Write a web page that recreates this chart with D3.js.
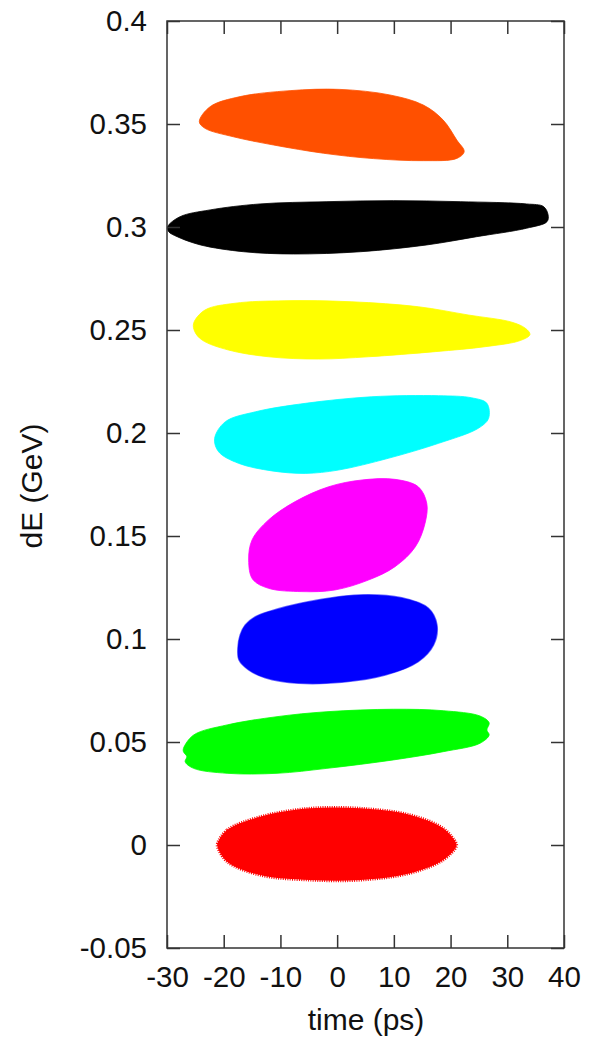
<!DOCTYPE html>
<html>
<head>
<meta charset="utf-8">
<script src="https://cdn.jsdelivr.net/npm/d3@7"></script>
<style>
  body { margin: 0; background: #fff; }
  svg { display: block; font-family: "Liberation Sans", Arial, sans-serif; }
  .axis text { font-size: 29.5px; fill: #111; }
  .axis line { stroke: #333; stroke-width: 1.5; }
  .title { font-size: 30px; fill: #111; }
</style>
</head>
<body>
<svg width="589" height="1040"></svg>
<script>
// tick values
var xTicks = [-30, -20, -10, 0, 10, 20, 30, 40];
var yTicks = [-0.05, 0, 0.05, 0.1, 0.15, 0.2, 0.25, 0.3, 0.35, 0.4];

// bunch outlines, [time (ps), dE (GeV)]
var orange = [[-24.3,0.3511],[-22.4,0.3584],[-17.1,0.3633],[-8.3,0.3662],[0.5,0.3668],[9.3,0.3641],
  [15.2,0.3592],[18.7,0.3519],[21.1,0.3422],[22.4,0.3366],[21.1,0.3333],[15.2,0.3322],[6.4,0.3332],
  [-2.4,0.3358],[-11.2,0.3398],[-18.3,0.3438],[-23.3,0.3479]];
var black = [[-29.9,0.3001],[-27.7,0.3050],[-22.4,0.3083],[-13.6,0.3112],[-1.8,0.3123],[9.9,0.3128],
  [21.7,0.3123],[33.4,0.3112],[36.4,0.3099],[37.2,0.3058],[37.0,0.3026],[33.4,0.2994],[24.6,0.2953],
  [15.8,0.2913],[4.1,0.2880],[-7.7,0.2869],[-16.5,0.2880],[-24.1,0.2913],[-28.2,0.2953],[-29.7,0.2977]];
var yellow = [[-25.3,0.2533],[-23.3,0.2597],[-18.0,0.2630],[-9.2,0.2642],[2.6,0.2637],[14.3,0.2613],
  [23.1,0.2573],[30.8,0.2538],[33.2,0.2508],[34.0,0.2478],[32.3,0.2449],[26.1,0.2419],[17.3,0.2395],
  [5.5,0.2370],[-3.3,0.2359],[-12.1,0.2370],[-19.2,0.2403],[-23.8,0.2451],[-25.1,0.2492]];
var cyan = [[-21.6,0.1974],[-19.7,0.2055],[-14.4,0.2103],[-5.6,0.2144],[6.1,0.2176],[17.9,0.2181],
  [23.7,0.2171],[26.4,0.2144],[26.7,0.2071],[24.9,0.2023],[17.9,0.1950],[9.0,0.1877],[0.2,0.1820],
  [-5.6,0.1804],[-11.5,0.1816],[-17.4,0.1853],[-20.9,0.1909]];
var magenta = [[-15.6,0.1383],[-15.0,0.1481],[-12.1,0.1578],[-7.4,0.1667],[-1.5,0.1739],[4.4,0.1772],
  [10.2,0.1775],[14.3,0.1739],[15.8,0.1659],[15.5,0.1562],[13.8,0.1448],[10.2,0.1351],[5.5,0.1286],
  [-0.4,0.1238],[-6.2,0.1230],[-12.1,0.1246],[-14.9,0.1290]];
var blue = [[-17.5,0.0955],[-17.1,0.1019],[-16.2,0.1068],[-14.4,0.1108],[-12.1,0.1133],[-5.1,0.1181],
  [3.8,0.1214],[11.4,0.1200],[16.1,0.1149],[17.6,0.1068],[17.0,0.0971],[14.3,0.0890],[8.5,0.0825],
  [0.8,0.0790],[-6.8,0.0785],[-12.7,0.0812],[-15.6,0.0850],[-17.3,0.0898]];
var green = [[-27.1,0.0469],[-25.3,0.0534],[-19.4,0.0583],[-10.6,0.0623],[-1.8,0.0647],[9.9,0.0659],
  [18.7,0.0652],[25.2,0.0626],[26.8,0.0593],[26.4,0.0558],[26.8,0.0534],[25.2,0.0494],[18.7,0.0453],
  [9.9,0.0413],[-1.8,0.0372],[-10.6,0.0348],[-19.4,0.0348],[-25.3,0.0372],[-26.8,0.0404],
  [-26.5,0.0429],[-27.1,0.0453]];
var red = [[-21.1,0.0008],[-19.4,0.0073],[-13.6,0.0137],[-4.8,0.0178],[4.1,0.0178],[12.9,0.0146],
  [18.7,0.0081],[21.0,0.0008],[21.0,-0.0008],[18.7,-0.0073],[12.9,-0.0137],[4.1,-0.0170],[-4.8,-0.0170],
  [-13.6,-0.0146],[-19.4,-0.0081],[-21.1,-0.0008]];

var bunches = [
  {name: "orange", pts: orange, color: "#ff5000"},
  {name: "black", pts: black, color: "#000000"},
  {name: "yellow", pts: yellow, color: "#ffff00"},
  {name: "cyan", pts: cyan, color: "#00ffff"},
  {name: "magenta", pts: magenta, color: "#ff00ff"},
  {name: "blue", pts: blue, color: "#0000ff"},
  {name: "green", pts: green, color: "#00ff00"},
  {name: "red", pts: red, color: "#ff0000"}
];

var svg = d3.select("svg"),
    margin = {top: 21, right: 25, bottom: 92, left: 167},
    width = +svg.attr("width") - margin.left - margin.right,
    height = +svg.attr("height") - margin.top - margin.bottom;

var x = d3.scaleLinear().domain([-30, 40]).range([0, width]),
    y = d3.scaleLinear().domain([-0.05, 0.4]).range([height, 0]);

var g = svg.append("g")
    .attr("transform", "translate(" + margin.left + "," + margin.top + ")");

var line = d3.line()
    .x(function(d) { return x(d[0]); })
    .y(function(d) { return y(d[1]); })
    .curve(d3.curveCatmullRomClosed.alpha(0.5));

// the bunches
g.selectAll(".bunch")
  .data(bunches)
  .enter().append("path")
    .attr("class", "bunch")
    .attr("d", function(d) { return line(d.pts); })
    .attr("fill", function(d) { return d.color; })
    .attr("stroke", function(d) { return d.color; })
    .attr("stroke-width", function(d) { return d.name === "red" ? 3 : (d.name === "blue" ? 1.5 : 0.8); })
    .attr("stroke-dasharray", function(d) { return d.name === "red" ? "1,1.3" : null; })
    .attr("stroke-opacity", function(d) { return d.name === "blue" ? 0.6 : 1; });

var fmt = function(d) { return String(d); };

// axes, ticks pointing inwards on all four sides
g.append("g")
    .attr("class", "axis axis--x")
    .attr("transform", "translate(0," + height + ")")
    .call(d3.axisBottom(x).tickValues(xTicks).tickFormat(fmt).tickSizeInner(-13).tickSizeOuter(0).tickPadding(18));

g.append("g")
    .attr("class", "axis axis--y")
    .call(d3.axisLeft(y).tickValues(yTicks).tickFormat(fmt).tickSizeInner(-13).tickSizeOuter(0).tickPadding(20));

g.append("g")
    .attr("class", "axis")
    .call(d3.axisTop(x).tickValues(xTicks).tickFormat("").tickSizeInner(-13).tickSizeOuter(0));

g.append("g")
    .attr("class", "axis")
    .attr("transform", "translate(" + width + ",0)")
    .call(d3.axisRight(y).tickValues(yTicks).tickFormat("").tickSizeInner(-13).tickSizeOuter(0));

g.selectAll(".axis .domain").remove();
g.selectAll(".axis text").attr("fill", "#111").style("font-family", "'Liberation Sans', Arial, sans-serif");

g.append("rect")
    .attr("width", width)
    .attr("height", height)
    .attr("fill", "none")
    .attr("stroke", "#333")
    .attr("stroke-width", 1.5);

// axis titles
svg.append("text")
    .attr("class", "title")
    .attr("x", 366)
    .attr("y", 1030)
    .attr("text-anchor", "middle")
    .text("time (ps)");

svg.append("text")
    .attr("class", "title")
    .attr("transform", "translate(42,486) rotate(-90)")
    .attr("text-anchor", "middle")
    .text("dE (GeV)");
</script>
</body>
</html>
